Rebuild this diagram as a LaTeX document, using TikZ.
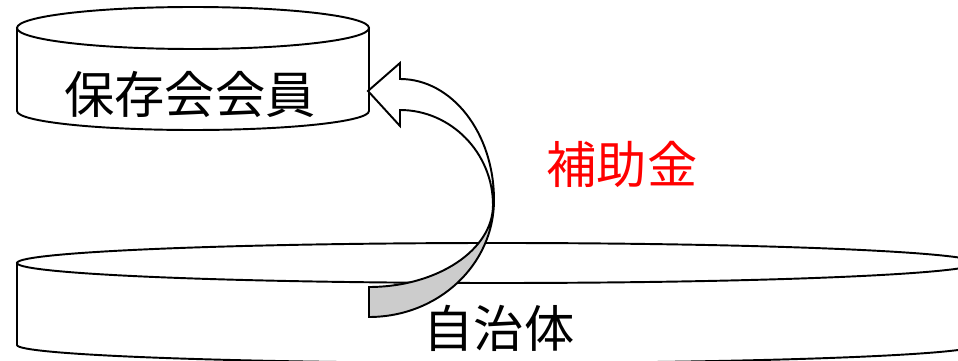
\documentclass[tikz,border=0pt]{standalone}
\usepackage{fontspec}
\newfontfamily\jpfont{Noto Sans CJK JP}
\usepackage{tikz}
\usetikzlibrary{positioning}
\tikzset{
    x=0.02cm, y=-0.02cm, % one unit is one pixel of the picture, y runs downwards
    drum/.style={draw, fill=white, line width=1.1pt}, % the sides of each drum
    drum text/.style={font=\jpfont\fontsize{28.6pt}{32pt}\selectfont, inner sep=0pt}, % sets the text in the drums
    ribbon/.style={draw, line width=1.1pt, line join=miter}, % the curved arrow
}
\begin{document}
\begin{tikzpicture}
    \useasboundingbox (0,0) rectangle (958,361);
    \clip (0,0) rectangle (958,361);
    % upper drum
    \draw[drum] (17,28) -- (17,111) arc[start angle=180, end angle=0, x radius=176, y radius=19] -- (369,28) -- cycle;
    \draw[drum] (193,28) ellipse [x radius=176, y radius=21];
    % lower drum
    \draw[drum] (17,263) -- (17,345) arc[start angle=180, end angle=0, x radius=480, y radius=18] -- (977,263) -- cycle;
    \draw[drum] (497,263) ellipse [x radius=480, y radius=20];
    \node[drum text] (kaiin) at (190,94) {保存会会員};
    \node[drum text] (jichi) at (499,328) {自治体};
    \node[drum text, text=red] (hojo) at (622,164) {補助金};
    % curved arrow
    \coordinate (tip) at (368,91);
    \coordinate (tail) at (369,317);
    \filldraw[ribbon, fill=gray!40] (494,200) .. controls (494,265) and (438,317) .. (tail)
        -- (369,287) .. controls (437,287) and (493,250) .. (493,205) -- cycle;
    \filldraw[ribbon, fill=white] (tip) -- (400,63) -- (400,79) .. controls (452,79) and (494,133) .. (494,200)
        -- (493,205) .. controls (493,153) and (451,110) .. (400,110) -- (400,126) -- cycle;
\end{tikzpicture}
\end{document}
